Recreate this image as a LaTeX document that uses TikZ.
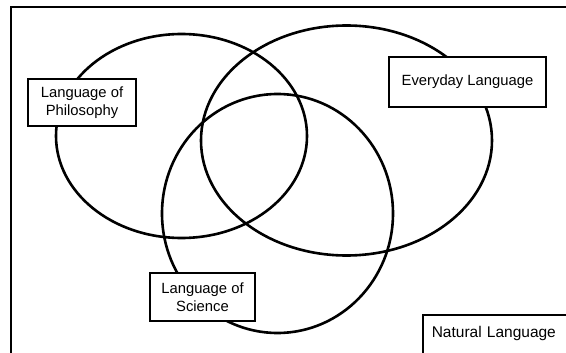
\documentclass[tikz,border=0pt]{standalone}
\usepackage{fontspec}
\setmainfont{Liberation Sans}
\usetikzlibrary{shapes.geometric, positioning}
\tikzset{
  region/.style={ellipse, draw=black, line width=2.6, inner sep=0},
  tag/.style={draw=black, fill=white, line width=1.6, align=center, inner sep=0,
    font=\fontsize{14.8}{17.5}\selectfont},
  frame/.style={draw=black, line width=2.2}
}
\begin{document}
\begin{tikzpicture}[x=1pt, y=-1pt]
    \useasboundingbox (0,0) rectangle (566,353);
    \draw[frame] (11,7) rectangle (600,400);
    % the three languages
    \node[region, minimum width=251, minimum height=204] (philo) at (181.5,136) {};
    \node[region, minimum width=291, minimum height=230] (everyday) at (346.5,140.5) {};
    \node[region, minimum width=231, minimum height=239] (science) at (277.5,213.5) {};
    % labels
    \node[tag, minimum width=108, minimum height=47] (philotag) at (82,102.5) {Language of\\Philosophy};
    \node[tag, minimum width=157, minimum height=50] (everytag) at (467.5,82) {Everyday Language};
    \node[tag, minimum width=105, minimum height=48] (sciencetag) at (202.5,297) {Language of\\Science};
    \node[tag, anchor=north west, inner xsep=9, text height=23, text depth=40, text width=150, align=left,
      font=\fontsize{15.5}{19}\selectfont] (naturaltag) at (422,314) {Natural Language};
\end{tikzpicture}
\end{document}
